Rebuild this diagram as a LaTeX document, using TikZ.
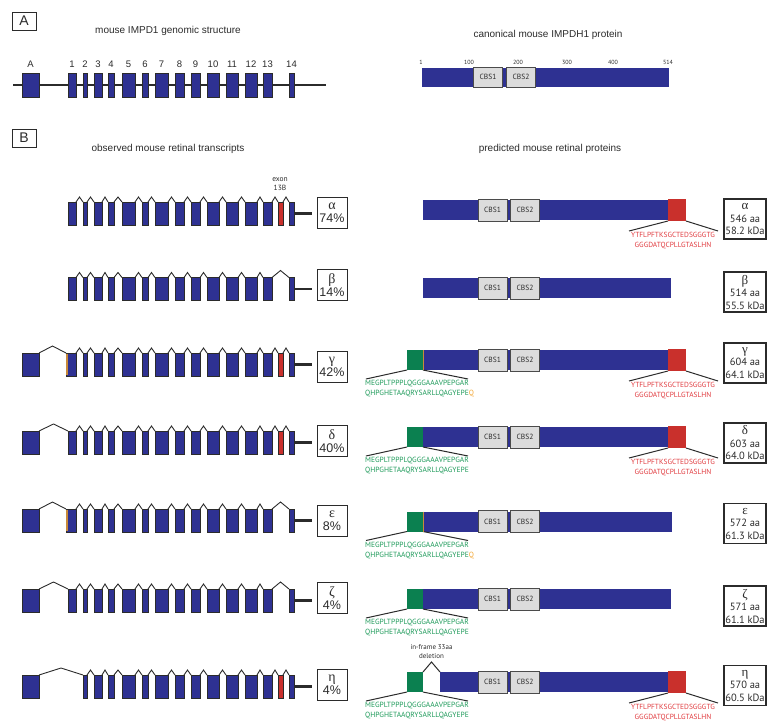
\documentclass[tikz,border=0pt]{standalone}
\usepackage{fontspec}
\setmainfont{Liberation Sans}
\newfontfamily\myr{PT Sans}
\newfontfamily\grk{Liberation Serif}
\usetikzlibrary{calc}
\definecolor{exblue}{HTML}{2E3192}
\definecolor{exline}{HTML}{2B2B2B}
\definecolor{redx}{HTML}{C9302C}
\definecolor{redtxt}{HTML}{E03A3E}
\definecolor{grnbox}{HTML}{0B8050}
\definecolor{grntxt}{HTML}{1E9A5A}
\definecolor{orng}{HTML}{F2A532}
\definecolor{sliver}{HTML}{C98A3A}
\definecolor{cbsgray}{HTML}{DCDCDC}
\tikzset{
 ex/.style={draw=exline, fill=exblue, line width=0.8pt, inner sep=0pt, outer sep=0pt, minimum height=23},
 intron/.style={draw=exline, line width=0.9pt},
 tailln/.style={draw=exline, line width=2.2pt},
 pbarst/.style={fill=exblue, inner sep=0pt, outer sep=0pt, minimum height=20},
 cbsst/.style={fill=cbsgray, draw=exline!85, line width=0.8pt, inner sep=0pt, outer sep=0pt, minimum width=29, minimum height=22, font=\myr\fontsize{7.5}{8}\selectfont, text=exline},
 redst/.style={fill=redx, inner sep=0pt, outer sep=0pt, minimum width=18, minimum height=22},
 grnst/.style={fill=grnbox, inner sep=0pt, outer sep=0pt, minimum width=16, minimum height=20},
 conn/.style={draw=exline, line width=1pt},
 lbox/.style={draw=exline, line width=0.9pt, minimum width=30, minimum height=31, inner sep=0pt, align=center, font=\fontsize{12.5}{13}\selectfont, text=exline},
 ibox/.style={draw=exline, line width=1.1pt, minimum width=42, minimum height=40, inner sep=0pt, align=center, font=\myr\fontsize{10.5}{12.5}\selectfont, text=exline},
 ttl/.style={font=\fontsize{10}{12}\selectfont, text=exline},
 pnl/.style={draw=exline, line width=0.9pt, minimum width=24, minimum height=18, inner sep=0pt, font=\fontsize{14}{14}\selectfont, text=exline},
 seqr/.style={font=\myr\fontsize{7.4}{10}\selectfont, text=redtxt, align=center, inner sep=0pt},
 seqg/.style={font=\myr\fontsize{7.5}{10}\selectfont, text=grntxt, align=left, inner sep=0pt},
}
\newcommand\ex[4]{\node[ex, minimum width={#3-#2}] (#1) at ({(#2+#3)/2},#4) {};}
\newcommand\redex[2]{\node[ex, fill=redx, minimum width=5] (#1) at (280.5,#2) {};}
\newcommand\intr[3]{\draw[intron] (#1.north east) -- ($(#1.north east)!.5!(#2.north west)+(0,-#3)$) -- (#2.north west);}
\newcommand\mainex[2]{%
 \foreach \n/\a/\b in {2/83/87,3/94/102,4/108/114,5/122/135,6/142/148,7/155/168,8/175/184,9/191/200,10/207/219,11/226/238,12/245/257,13/263/272,14/289/294}{\ex{#1\n}{\a}{\b}{#2}}
 \foreach \p/\n in {2/3,3/4,4/5,5/6,6/7,7/8,8/9,9/10,10/11,11/12,12/13}{\intr{#1\p}{#1\n}{5}}
 \coordinate (#1T) at ($(#114.east)+(18,0)$);
 \draw[tailln] (#114.east) -- (#1T);
}
\newcommand\slv[1]{\draw[sliver, line width=1.6pt] ($(#1.south west)+(1.2,-0.6)$) -- ($(#1.north west)+(1.2,0.6)$);}
\newcommand\pbar[4]{\node[pbarst, minimum width={#3-#2}] (#1) at ({(#2+#3)/2},#4) {};}
\newcommand\cbsB[2]{\node[cbsst] (#1c1) at (492.5,#2) {CBS1}; \node[cbsst] (#1c2) at (525,#2) {CBS2};}
\newcommand\redB[2]{%
 \node[redst] (#1r) at (677,#2) {};
 \coordinate (#1rl) at ($(#1r.south west)+(-39,10)$);
 \coordinate (#1rr) at ($(#1r.south east)+(32,10)$);
 \draw[conn] (#1r.south west) -- (#1rl);
 \draw[conn] (#1r.south east) -- (#1rr);
 \node[seqr, anchor=north] (#1rt) at ($(#1r.south)+(-4,11)$) {YTFLPFTKSGCTEDSGGGTG\\GGGDATQCPLLGTASLHN};}
\newcommand\grnB[3]{%
 \node[grnst] (#1g) at (415,#2) {};
 \coordinate (#1gl) at ($(#1g.south west)+(-41,9)$);
 \coordinate (#1gr) at ($(#1g.south east)+(45,9)$);
 \draw[conn] (#1g.south west) -- (#1gl);
 \draw[conn] (#1g.south east) -- (#1gr);
 \node[seqg, anchor=north west] (#1gt) at ($(#1g.south west)+(-42,10)$) {MEGPLTPPPLQGGGAAAVPEPGAR\\QHPGHETAAQRYSARLLQAGYEPE#3};}
\newcommand\qline[1]{\draw[sliver, line width=0.9pt] (#1.north east) -- (#1.south east);}
\newcommand\Q{{\color{orng}Q}}
\begin{document}
\begin{tikzpicture}[x=1pt,y=-1pt]
\useasboundingbox (0,0) rectangle (767,720);
% ---------- Panel A
\node[pnl] (pA) at (24,21) {A};
\node[ttl] (tA1) at (168,31) {mouse IMPD1 genomic structure};
\node[ttl] (tA2) at (548,35) {canonical mouse IMPDH1 protein};
\coordinate (gL) at (13,84.5);
\coordinate (gR) at (326,84.5);
\draw[line width=2pt, exline] (gL) -- (gR);
\foreach \n/\a/\b in {A/22/39,1/68/76,2/83/87,3/94/102,4/108/114,5/122/135,6/142/148,7/155/168,8/175/184,9/191/200,10/207/219,11/226/238,12/245/257,13/263/272,14/289/294}{
  \node[ex, minimum height=24, minimum width={\b-\a}] (g\n) at ({(\a+\b)/2},85) {};
  \node[font=\fontsize{9.5}{9.5}\selectfont, text=exline] (gl\n) at ({(\a+\b)/2},64) {\n};
}
\node[pbarst, minimum width=247, minimum height=19] (pA0) at (545.5,77) {};
\node[cbsst, minimum height=20] (pAc1) at (488,77) {CBS1};
\node[cbsst, minimum height=20] (pAc2) at (521,77) {CBS2};
\foreach \t/\x in {1/421,100/469,200/518,300/567,400/613,514/668}
  \node[font=\myr\fontsize{6}{6}\selectfont, text=exline] (tk\t) at (\x,62) {\t};
% ---------- Panel B
\node[pnl] (pB) at (24,138) {B};
\node[ttl] (tB1) at (168,149) {observed mouse retinal transcripts};
\node[ttl] (tB2) at (550,149) {predicted mouse retinal proteins};
% alpha
\mainex{ta}{213.5}
\ex{ta1}{68}{76}{213.5} \intr{ta1}{ta2}{5}
\redex{taB}{213.5} \intr{ta13}{taB}{5} \intr{taB}{ta14}{5}
\node[font=\myr\fontsize{7.5}{8.5}\selectfont, text=exline, align=center, inner sep=0pt] (exlab) at (280,184) {exon\\13B};
\node[lbox] (laL) at (332,212.5) {{\grk\fontsize{14}{13}\selectfont α}\\74\%};
\pbar{pa}{423}{669}{210} \cbsB{pa}{210} \redB{pa}{210}
\node[ibox] (paI) at (745,219) {{\grk\fontsize{13}{12.5}\selectfont α}\\546 aa\\58.2 kDa};
% beta
\mainex{tb}{289}
\ex{tb1}{68}{76}{289} \intr{tb1}{tb2}{5} \intr{tb13}{tb14}{7}
\node[lbox] (lbL) at (332,285) {{\grk\fontsize{14}{13}\selectfont β}\\14\%};
\pbar{pb}{423}{671}{288} \cbsB{pb}{288}
\node[ibox] (pbI) at (745,292) {{\grk\fontsize{13}{12.5}\selectfont β}\\514 aa\\55.5 kDa};
% gamma
\mainex{tg}{364.5}
\ex{tgA}{22}{39}{364.5} \ex{tg1}{66}{76}{364.5} \slv{tg1}
\intr{tgA}{tg1}{7} \intr{tg1}{tg2}{5}
\redex{tgB}{364.5} \intr{tg13}{tgB}{5} \intr{tgB}{tg14}{5}
\node[lbox] (lgL) at (332,367) {{\grk\fontsize{14}{13}\selectfont γ}\\42\%};
\pbar{pg}{423}{669}{360} \cbsB{pg}{360} \redB{pg}{360} \grnB{pg}{360}{\Q} \qline{pgg}
\node[ibox] (pgI) at (745,363) {{\grk\fontsize{13}{12.5}\selectfont γ}\\604 aa\\64.1 kDa};
% delta
\mainex{td}{442.5}
\ex{tdA}{22}{39}{442.5} \ex{td1}{68}{76}{442.5}
\intr{tdA}{td1}{7} \intr{td1}{td2}{5}
\redex{tdB}{442.5} \intr{td13}{tdB}{5} \intr{tdB}{td14}{5}
\node[lbox] (ldL) at (332,441) {{\grk\fontsize{14}{13}\selectfont δ}\\40\%};
\pbar{pd}{423}{669}{437} \cbsB{pd}{437} \redB{pd}{437} \grnB{pd}{437}{}
\node[ibox] (pdI) at (745,443) {{\grk\fontsize{13}{12.5}\selectfont δ}\\603 aa\\64.0 kDa};
% epsilon
\mainex{te}{520.5}
\ex{teA}{22}{39}{520.5} \ex{te1}{66}{76}{520.5} \slv{te1}
\intr{teA}{te1}{7} \intr{te1}{te2}{5} \intr{te13}{te14}{7}
\node[lbox] (leL) at (332,520.5) {{\grk\fontsize{14}{13}\selectfont ε}\\8\%};
\pbar{pe}{423}{672}{521.5} \cbsB{pe}{521.5} \grnB{pe}{521.5}{\Q} \qline{peg}
\node[ibox] (peI) at (745,523.5) {{\grk\fontsize{13}{12.5}\selectfont ε}\\572 aa\\61.3 kDa};
% zeta
\mainex{tz}{600.5}
\ex{tzA}{22}{39}{600.5} \ex{tz1}{68}{76}{600.5}
\intr{tzA}{tz1}{7} \intr{tz1}{tz2}{5} \intr{tz13}{tz14}{7}
\node[lbox] (lzL) at (332,598) {{\grk\fontsize{14}{13}\selectfont ζ}\\4\%};
\pbar{pz}{423}{671}{599} \cbsB{pz}{599} \grnB{pz}{599}{}
\node[ibox] (pzI) at (745,606) {{\grk\fontsize{13}{12.5}\selectfont ζ}\\571 aa\\61.1 kDa};
% eta
\mainex{th}{686.5}
\ex{thA}{22}{39}{686.5}
\intr{thA}{th2}{7}
\redex{thB}{686.5} \intr{th13}{thB}{5} \intr{thB}{th14}{5}
\node[lbox] (lhL) at (332,685) {{\grk\fontsize{14}{13}\selectfont η}\\4\%};
\pbar{ph}{440}{669}{682} \cbsB{ph}{682} \redB{ph}{682} \grnB{ph}{682}{}
\draw[conn] (phg.north east) -- ($(phg.north east)!.5!(ph.north west)+(0,-10)$) coordinate (phk) -- (ph.north west);
\node[font=\myr\fontsize{7}{9}\selectfont, text=exline, align=center, inner sep=0pt, anchor=south] (phd) at ($(phk)+(0,-3)$) {in-frame 33aa\\deletion};
\node[ibox] (phI) at (745,685.5) {{\grk\fontsize{13}{12.5}\selectfont η}\\570 aa\\60.5 kDa};
\end{tikzpicture}
\end{document}
